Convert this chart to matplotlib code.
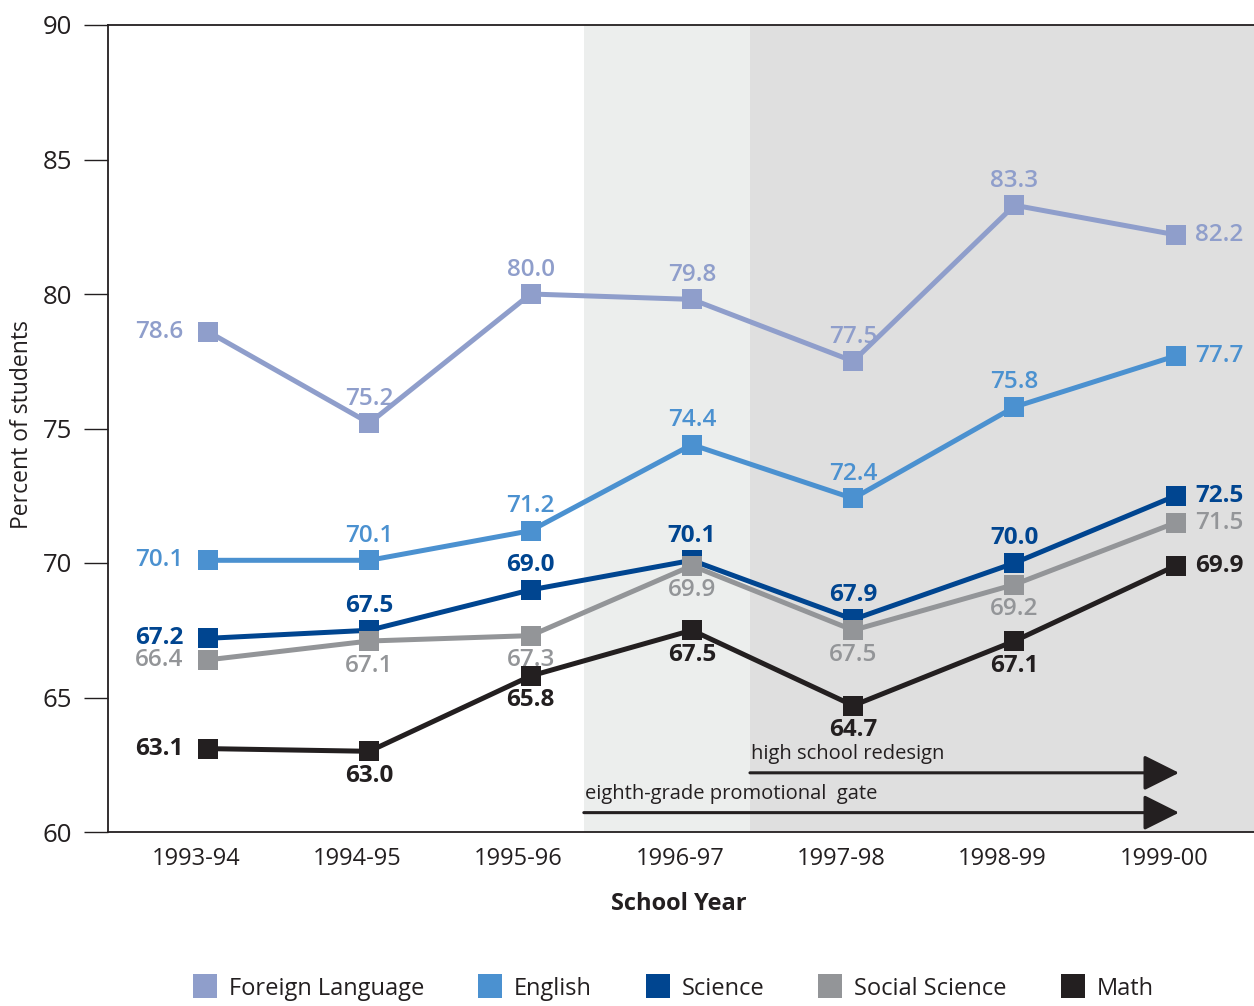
import matplotlib
matplotlib.use("Agg")
import matplotlib.pyplot as plt
from matplotlib.patches import FancyArrowPatch
from matplotlib.lines import Line2D
from matplotlib.transforms import ScaledTranslation

plt.rcParams['font.family'] = ['Open Sans', 'DejaVu Sans']

# ---- data ----
years = ["1993-94", "1994-95", "1995-96", "1996-97", "1997-98", "1998-99", "1999-00"]
foreign_language = [78.6, 75.2, 80.0, 79.8, 77.5, 83.3, 82.2]
english = [70.1, 70.1, 71.2, 74.4, 72.4, 75.8, 77.7]
science = [67.2, 67.5, 69.0, 70.1, 67.9, 70.0, 72.5]
social_science = [66.4, 67.1, 67.3, 69.9, 67.5, 69.2, 71.5]
math_scores = [63.1, 63.0, 65.8, 67.5, 64.7, 67.1, 69.9]

series_names = ["Foreign Language", "English", "Science", "Social Science", "Math"]
series_values = [foreign_language, english, science, social_science, math_scores]
colors = ["#8f9ecb", "#4b91d0", "#004590", "#939598", "#231f20"]
weights = ["semibold", "semibold", "bold", "semibold", "bold"]
# where the interior labels sit relative to the marker
label_side = ["above", "above", "above", "below", "below"]

# policy periods (x in category units)
gate_start = 2.33
redesign_start = 3.36
arrow_end = 6.02

fig = plt.figure(figsize=(12.54, 10.06), dpi=100)
ax = fig.add_axes([108 / 1254, 1 - 832 / 1006, 1 - 108 / 1254, 807 / 1006])

ax.set_xlim(-0.62, 6.485)
ax.set_ylim(60, 90)

# shaded periods
ax.axvspan(gate_start, redesign_start, color="#eceeed", zorder=0, lw=0)
ax.axvspan(redesign_start, ax.get_xlim()[1], color="#dfdfdf", zorder=0, lw=0)

x = list(range(len(years)))
for name, vals, c, w, side in zip(series_names, series_values, colors, weights, label_side):
    ax.plot(x, vals, color=c, lw=3.6, marker="s", markersize=14.5,
            markeredgewidth=0, solid_joinstyle="miter", zorder=3)
    for i, v in enumerate(vals):
        txt = f"{v:.1f}"
        if i == 0:
            ax.annotate(txt, (i, v), xytext=(-18, 0), textcoords="offset points",
                        ha="right", va="center", color=c, fontsize=17.5,
                        fontweight=w, zorder=4)
        elif i == len(vals) - 1:
            ax.annotate(txt, (i, v), xytext=(14, 0), textcoords="offset points",
                        ha="left", va="center", color=c, fontsize=17.5,
                        fontweight=w, zorder=4)
        elif side == "above":
            ax.annotate(txt, (i, v), xytext=(0, 9), textcoords="offset points",
                        ha="center", va="bottom", color=c, fontsize=17.5,
                        fontweight=w, zorder=4)
        else:
            ax.annotate(txt, (i, v), xytext=(0, -9), textcoords="offset points",
                        ha="center", va="top", color=c, fontsize=17.5,
                        fontweight=w, zorder=4)

# policy arrows
for x0, yv, label in [(redesign_start, 62.2, "high school redesign"),
                      (gate_start, 60.72, "eighth-grade promotional  gate")]:
    arr = FancyArrowPatch((x0, yv), (arrow_end, yv),
                          arrowstyle="-|>,head_length=1.1,head_width=0.55",
                          mutation_scale=20, color="#231f20", lw=2.2,
                          shrinkA=0, shrinkB=0, zorder=2)
    ax.add_patch(arr)
    ax.annotate(label, (x0, yv), xytext=(1, 6), textcoords="offset points",
                ha="left", va="bottom", fontsize=14.5, color="#231f20")

# axes styling
for s in ["top", "left", "bottom"]:
    ax.spines[s].set_color("#231f20")
    ax.spines[s].set_linewidth(1.3)
ax.spines["right"].set_visible(False)

ax.set_yticks([60, 65, 70, 75, 80, 85, 90])
ax.tick_params(axis="y", length=17, width=1.0, color="#231f20", pad=9,
               labelsize=18.5, labelcolor="#231f20")
ax.set_xticks(x)
ax.set_xticklabels(years)
ax.tick_params(axis="x", length=0, pad=11, labelsize=17, labelcolor="#231f20")
shift = ScaledTranslation(-12 / 100, 0, fig.dpi_scale_trans)
for lbl in ax.get_xticklabels():
    lbl.set_transform(lbl.get_transform() + shift)

ax.set_ylabel("Percent of students", fontsize=16.5, color="#231f20")
ax.yaxis.set_label_coords(-0.0646, 0.505)
fig.text(679 / 1254, 1 - 904 / 1006, "School Year", ha="center", va="center",
         fontsize=17, fontweight="bold", color="#231f20")

handles = [Line2D([], [], color=c, marker="s", linestyle="none", markersize=17,
                  markeredgewidth=0) for c in colors]
fig.legend(handles, series_names, ncol=5, loc="lower center", frameon=False,
           bbox_to_anchor=(0.537, -0.004), borderaxespad=0.0, fontsize=17,
           handletextpad=0.5, columnspacing=2.3, handlelength=1.0,
           labelcolor="#231f20")

fig.savefig("out.png", dpi=100)
